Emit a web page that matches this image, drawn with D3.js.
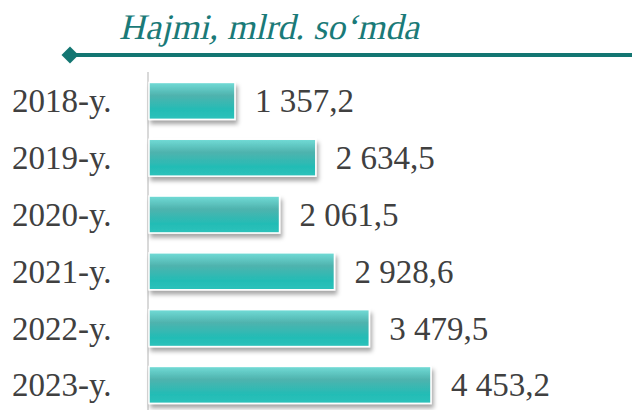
<!DOCTYPE html>
<meta charset="utf-8">
<style>
body { margin: 0; background: #fff; }
.year { font: 33px "Liberation Serif", serif; fill: #404040; }
.val { font: 33px "Liberation Serif", serif; fill: #404040; }
.title { font: 36px "Liberation Serif", serif; fill: #1a7a78; }
</style>
<body>
<script src="https://cdn.jsdelivr.net/npm/d3@7"></script>
<svg id="chart" width="632" height="410"></svg>
<script>

var years = ["2018-y.", "2019-y.", "2020-y.", "2021-y.", "2022-y.", "2023-y."];
var values = [1357.2, 2634.5, 2061.5, 2928.6, 3479.5, 4453.2];
var labels = ["1 357,2", "2 634,5", "2 061,5", "2 928,6", "3 479,5", "4 453,2"];

var svg = d3.select("#chart");

var defs = svg.append("defs");
var grad = defs.append("linearGradient")
    .attr("id", "barGrad")
    .attr("x1", 0).attr("y1", 0).attr("x2", 0).attr("y2", 1);
grad.append("stop").attr("offset", "0%").attr("stop-color", "#72dcd7");
grad.append("stop").attr("offset", "35%").attr("stop-color", "#4fb3ae");
grad.append("stop").attr("offset", "75%").attr("stop-color", "#23bcb5");
grad.append("stop").attr("offset", "100%").attr("stop-color", "#2cc2bb");

var shadow = defs.append("filter")
    .attr("id", "shadow")
    .attr("x", "-10%").attr("y", "-20%").attr("width", "130%").attr("height", "160%");
shadow.append("feDropShadow")
    .attr("dx", 2).attr("dy", 4)
    .attr("stdDeviation", 2)
    .attr("flood-color", "#000")
    .attr("flood-opacity", 0.35);

var x = d3.scaleLinear()
    .domain([0, 5000])
    .range([149, 465.6]);

var y = d3.scaleBand()
    .domain(years)
    .range([72.5, 413.3])
    .paddingInner(0.35)
    .paddingOuter(0.175);

// title (slanted by hand, the italic face falls back to a sans here)
svg.append("text")
    .attr("class", "title")
    .attr("transform", "translate(119,39) skewX(-13)")
    .text("Hajmi, mlrd. so\u2018mda");

svg.append("line")
    .attr("x1", 70).attr("x2", 632)
    .attr("y1", 55).attr("y2", 55)
    .attr("stroke", "#137672")
    .attr("stroke-width", 4);

svg.append("rect")
    .attr("x", -6).attr("y", -6)
    .attr("width", 12).attr("height", 12)
    .attr("fill", "#137672")
    .attr("transform", "translate(70,55) rotate(45)");

// axis line
svg.append("line")
    .attr("x1", 148).attr("x2", 148)
    .attr("y1", 72).attr("y2", 410)
    .attr("stroke", "#d9d9d9")
    .attr("stroke-width", 2);

var row = svg.selectAll(".row")
    .data(years)
    .enter().append("g")
    .attr("class", "row");

row.append("rect")
    .attr("x", x(0))
    .attr("y", function(d) { return y(d); })
    .attr("width", function(d, i) { return x(values[i]) - x(0); })
    .attr("height", y.bandwidth())
    .attr("fill", "url(#barGrad)")
    .attr("stroke", "#fff")
    .attr("stroke-width", 1.5)
    .attr("filter", "url(#shadow)");

row.append("text")
    .attr("class", "year")
    .attr("x", 12)
    .attr("y", function(d) { return y(d) + y.bandwidth() / 2; })
    .attr("dy", "0.35em")
    .text(function(d) { return d; });

row.append("text")
    .attr("class", "val")
    .attr("x", function(d, i) { return x(values[i]) + 20; })
    .attr("y", function(d) { return y(d) + y.bandwidth() / 2; })
    .attr("dy", "0.35em")
    .text(function(d, i) { return labels[i]; });

</script>
</body>
